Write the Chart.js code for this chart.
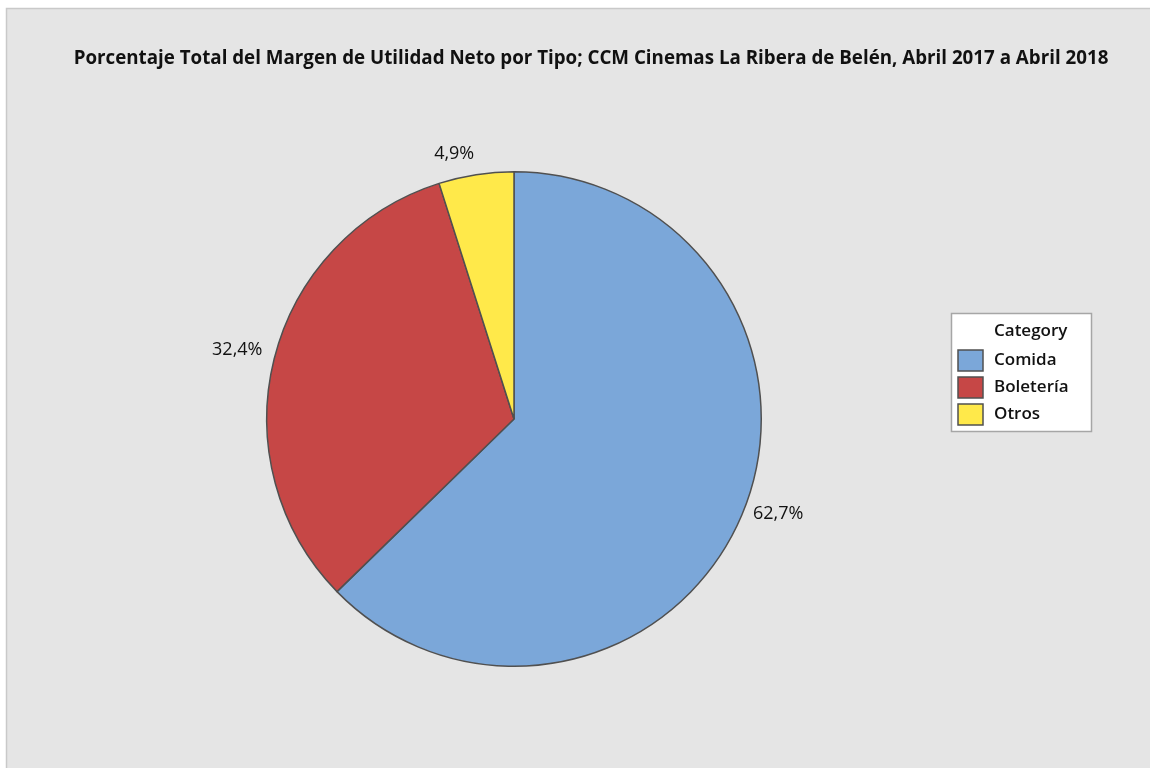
<!DOCTYPE html>
<html>
<head>
<meta charset="utf-8">
<title>Margen de Utilidad Neto por Tipo</title>
<script src="https://cdn.jsdelivr.net/npm/chart.js@4.4.1/dist/chart.umd.min.js"></script>
<style>
  html, body { margin: 0; padding: 0; background: #ffffff; }
  canvas { display: block; }
</style>
</head>
<body>
<canvas id="pieChart" width="1150" height="768"></canvas>
<script>
const chartTitle = 'Porcentaje Total del Margen de Utilidad Neto por Tipo; CCM Cinemas La Ribera de Belén, Abril 2017 a Abril 2018';
const legendTitle = 'Category';
const categories = ['Comida', 'Boletería', 'Otros'];
const percentages = [62.7, 32.4, 4.9];

const sliceColors = ['#7ba7d9', '#c64746', '#ffe94a'];
const edgeColor = '#505050';
const fontFamily = '"Open Sans", "Noto Sans", sans-serif';

function fmtPct(v) {
  return v.toFixed(1).replace('.', ',') + '%';
}

// grey panel behind everything
const panelBg = {
  id: 'panelBg',
  beforeDraw(chart) {
    const c = chart.ctx;
    c.save();
    c.fillStyle = '#ffffff';
    c.fillRect(0, 0, chart.width, chart.height);
    c.fillStyle = '#e5e5e5';
    c.fillRect(6, 8, chart.width, chart.height);
    c.strokeStyle = '#c9c9c9';
    c.lineWidth = 1.5;
    c.beginPath();
    c.moveTo(6.5, chart.height);
    c.lineTo(6.5, 8.5);
    c.lineTo(chart.width, 8.5);
    c.stroke();
    c.restore();
  }
};

// title, slice percentages and the category box
const annotations = {
  id: 'annotations',
  afterDraw(chart) {
    const c = chart.ctx;
    c.save();

    // title, sized to span its line
    c.fillStyle = '#111111';
    c.textBaseline = 'middle';
    c.textAlign = 'center';
    c.font = 'bold 20px ' + fontFamily;
    let size = 20 * 1035 / c.measureText(chartTitle).width;
    c.font = 'bold ' + size.toFixed(2) + 'px ' + fontFamily;
    c.fillText(chartTitle, 591, 59);

    // percentages outside each slice
    const meta = chart.getDatasetMeta(0);
    c.font = '18px ' + fontFamily;
    meta.data.forEach((arc, i) => {
      const p = arc.getProps(['x', 'y', 'startAngle', 'endAngle', 'outerRadius'], true);
      const mid = (p.startAngle + p.endAngle) / 2;
      const r = p.outerRadius + 12;
      const s = Math.sin(mid);
      const px = p.x + Math.cos(mid) * r;
      const py = p.y + s * r;
      c.textAlign = Math.cos(mid) >= 0 ? 'left' : 'right';
      c.fillText(fmtPct(percentages[i]), px, py + s * Math.abs(s) * 3 - 6);
    });

    // category box
    const bx = 951, by = 313, bw = 140, bh = 118;
    c.fillStyle = '#ffffff';
    c.fillRect(bx, by, bw, bh);
    c.strokeStyle = '#a6a6a6';
    c.lineWidth = 1.5;
    c.strokeRect(bx + 0.5, by + 0.5, bw, bh);

    c.textAlign = 'left';
    c.fillStyle = '#111111';
    c.font = '600 17px ' + fontFamily;
    c.fillText(legendTitle, 994, 331);
    categories.forEach((name, i) => {
      const cy = 360 + i * 27;
      c.fillStyle = sliceColors[i];
      c.fillRect(958, cy - 10, 25, 21);
      c.strokeStyle = edgeColor;
      c.lineWidth = 1.5;
      c.strokeRect(958, cy - 10, 25, 21);
      c.fillStyle = '#111111';
      c.fillText(name, 994, cy);
    });

    c.restore();
  }
};

new Chart(document.getElementById('pieChart'), {
  type: 'pie',
  data: {
    labels: categories,
    datasets: [{
      data: percentages,
      backgroundColor: sliceColors,
      borderColor: edgeColor,
      borderWidth: 1.5,
      hoverOffset: 0
    }]
  },
  options: {
    responsive: false,
    animation: false,
    layout: {
      padding: { left: 266, right: 388, top: 171, bottom: 101 }
    },
    plugins: {
      legend: { display: false },
      title: { display: false },
      tooltip: { enabled: false }
    }
  },
  plugins: [panelBg, annotations]
});
</script>
</body>
</html>
